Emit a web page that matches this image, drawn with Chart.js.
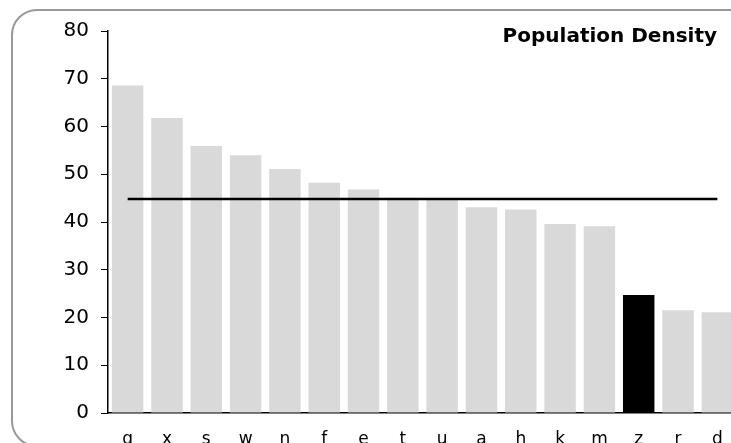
<!DOCTYPE html>
<html>
<head>
<meta charset="utf-8">
<script src="https://cdn.jsdelivr.net/npm/chart.js@4"></script>
<style>
  html, body { margin: 0; padding: 0; background: #fff; overflow: hidden; }
  #wrap { position: relative; width: 731px; height: 443px; overflow: hidden; }
  #frame {
    position: absolute; left: 11px; top: 9px; width: 760px; height: 434px;
    border: 2px solid #999; border-radius: 26px;
  }
  #holder { position: absolute; left: 0; top: 0; width: 737px; height: 443px; }
</style>
</head>
<body>
<div id="wrap">
  <div id="frame"></div>
  <div id="holder"><canvas id="chart"></canvas></div>
</div>
<script>
const categories = ['g', 'x', 's', 'w', 'n', 'f', 'e', 't', 'u', 'a', 'h', 'k', 'm', 'z', 'r', 'd'];
const density = [68.6, 61.8, 55.9, 54.0, 51.1, 48.2, 46.8, 45.1, 44.6, 43.1, 42.6, 39.6, 39.1, 24.7, 21.5, 21.1];
const average = [44.8, 44.8, 44.8, 44.8, 44.8, 44.8, 44.8, 44.8, 44.8, 44.8, 44.8, 44.8, 44.8, 44.8, 44.8, 44.8];
const highlight = 'z';
const yTicks = [0, 10, 20, 30, 40, 50, 60, 70, 80];

const barColors = categories.map(c => c === highlight ? '#000000' : '#d9d9d9');

// title sits in the top right corner, inside the plot
const titlePlugin = {
    id: 'cornerTitle',
    afterDraw(chart) {
        const ctx = chart.ctx;
        ctx.save();
        ctx.font = 'bold 20px "DejaVu Sans"';
        ctx.fillStyle = '#000';
        ctx.textAlign = 'right';
        ctx.textBaseline = 'middle';
        ctx.fillText('Population Density', 717, 37);
        ctx.restore();
    }
};

new Chart(document.getElementById('chart'), {
    data: {
        labels: categories,
        datasets: [
            {
                type: 'line',
                data: average,
                borderColor: '#000',
                borderWidth: 2.5,
                pointRadius: 0,
                fill: false,
                order: 0
            },
            {
                type: 'bar',
                data: density,
                backgroundColor: barColors,
                borderWidth: 0,
                barPercentage: 0.8,
                categoryPercentage: 1,
                order: 1
            }
        ]
    },
    options: {
        responsive: true,
        maintainAspectRatio: false,
        animation: false,
        layout: { padding: { top: 31, right: 0, bottom: 0, left: 0 } },
        plugins: {
            legend: { display: false },
            tooltip: { enabled: false }
        },
        scales: {
            x: {
                grid: { display: false },
                border: { display: true, color: '#000', width: 1.5 },
                ticks: {
                    color: '#000',
                    font: { family: 'DejaVu Sans', size: 17 },
                    padding: 8,
                    maxRotation: 0,
                    autoSkip: false
                },
                afterFit(scale) { scale.height = 30; }
            },
            y: {
                min: 0,
                max: 80,
                afterBuildTicks(scale) { scale.ticks = yTicks.map(v => ({ value: v })); },
                grid: { drawOnChartArea: false, color: '#000', tickLength: 7 },
                border: { display: true, color: '#000', width: 1.5 },
                ticks: {
                    color: '#000',
                    font: { family: 'DejaVu Sans', size: 20 },
                    padding: 12
                },
                afterFit(scale) { scale.width = 108; }
            }
        }
    },
    plugins: [titlePlugin]
});
</script>
</body>
</html>
